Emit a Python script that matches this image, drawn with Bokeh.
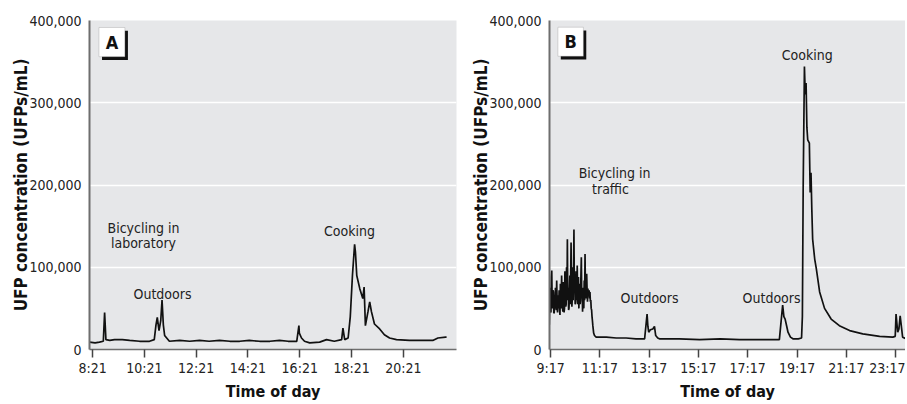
from bokeh.plotting import figure
from bokeh.layouts import row
from bokeh.models import (FixedTicker, NumeralTickFormatter, CustomJSTickFormatter,
                          Range1d, Label, BoxAnnotation)
from bokeh.embed import file_html
from bokeh.resources import INLINE

# ---------------- data (minutes since midnight, UFPs/mL in thousands) ----------------
a_time = [494, 507, 517, 526, 529, 532, 541, 552, 570, 587, 610, 633, 644, 648, 651, 655,
          659, 662, 665, 668, 679, 703, 726, 749, 771, 795, 819, 842, 864, 888, 912, 934,
          954, 974, 979, 980, 985, 992, 1004, 1027, 1043, 1061, 1078, 1081, 1085, 1093,
          1098, 1103, 1108, 1110, 1113, 1120, 1127, 1130, 1133, 1139, 1143, 1147, 1154,
          1166, 1177, 1189, 1205, 1235, 1260, 1289, 1301, 1319, 1321]
a_ufp = [9, 8, 9, 10, 45, 12, 11, 12, 12, 11, 10, 10, 12, 30, 39, 23,
         35, 60, 30, 17, 10, 11, 10, 11, 10, 11, 10, 10, 11, 10, 10, 11,
         10, 10, 29, 20, 14, 10, 8, 9, 12, 10, 12, 26, 12, 14,
         40, 90, 128, 118, 90, 74, 62, 76, 29, 46, 58, 46, 31,
         25, 18, 14, 12, 11, 11, 11, 14, 15, 15]

b_time = [554, 555, 556, 557, 558, 559, 560, 561, 562, 563, 564, 565, 566, 566.5, 567, 568,
          569, 570, 571, 571.5, 572, 573, 574, 575, 576, 577, 578, 579, 580, 580.5, 581,
          582, 583, 584, 585, 586, 587, 588, 589, 590, 591, 592, 593, 594, 595, 596, 597,
          598, 599, 600, 601, 602, 603, 604, 605, 606, 607, 608, 609, 610, 611, 612, 613,
          614, 615, 616, 617, 618, 619, 620, 621, 622, 623, 624, 625, 626, 627, 628, 629,
          630, 631, 632, 633, 634, 635, 636, 637, 638, 639, 640, 641, 642, 643, 644, 645,
          646, 647, 648, 649, 650, 651, 652, 653, 654, 655, 656, 657, 658, 659, 660, 662,
          664, 668,
          693, 717, 741, 765, 786, 792, 794, 796, 800, 806, 810, 813, 818, 822, 870, 920,
          970, 1017, 1065, 1114, 1122, 1125, 1128, 1132, 1135, 1141, 1147, 1160, 1168,
          1170, 1172, 1175, 1177, 1179, 1181, 1183, 1187, 1189, 1191, 1193, 1195, 1200,
          1204, 1212, 1224, 1240, 1260, 1285, 1317, 1358, 1390, 1396, 1398, 1402, 1405,
          1408, 1414, 1423]
b_ufp = [30, 62, 75, 48, 45, 88, 96, 55, 50, 72, 70, 44, 45, 66, 50, 60,
         75, 52, 48, 70, 84, 58, 45, 66, 50, 54, 72, 48, 42, 62, 80,
         56, 50, 90, 65, 52, 46, 82, 70, 45, 50, 95, 78, 52, 55, 100, 60,
         134, 60, 75, 48, 50, 72, 90, 55, 85, 130, 70, 52, 62, 100, 60, 88,
         146, 70, 80, 55, 58, 95, 85, 60, 102, 55, 60, 88, 50, 70, 80, 55,
         60, 90, 112, 62, 70, 46, 68, 75, 50, 84, 60, 116, 70, 80, 62, 92,
         72, 58, 74, 66, 65, 72, 62, 70, 58, 60, 50, 48, 40, 35, 29, 20,
         17, 15,
         15, 14, 14, 13, 13, 43, 28, 21, 24, 25, 28, 17, 14, 13, 13, 12,
         13, 12, 12, 12, 54, 40, 37, 28, 21, 15, 13, 13, 14,
         40, 200, 344, 310, 324, 270, 255, 251, 191, 215, 170, 134, 110,
         98, 70, 50, 37, 29, 23, 19, 16, 15, 16, 43, 21, 25,
         41, 15, 13]

a_ticks = [501, 621, 741, 861, 981, 1101, 1221]            # 8:21 ... 20:21
b_ticks = [557, 677, 797, 917, 1037, 1157, 1277, 1397]     # 9:17 ... 23:17
y_ticks = [0, 100000, 200000, 300000, 400000]

a_notes = [("Bicycling in", 619, 147.6), ("laboratory", 619, 129),
           ("Outdoors", 663, 68), ("Cooking", 1096, 144)]
b_notes = [("Bicycling in", 713, 214.6), ("traffic", 703, 195),
           ("Outdoors", 798, 62.6), ("Outdoors", 1095, 62.6), ("Cooking", 1182, 357.7)]

FONT = "'DejaVu Sans Condensed', 'Liberation Sans', sans-serif"
BG = "#e6e7e9"

time_fmt = CustomJSTickFormatter(code="""
    const h = Math.floor(tick / 60);
    const m = Math.round(tick - h * 60);
    return h + ':' + (m < 10 ? '0' + m : '' + m);
""")


def make_panel(times, ufp, x0, x1, ticks, notes, letter, box, width, bleft, bright):
    p = figure(width=width, height=403, output_backend="svg", toolbar_location=None,
               x_range=Range1d(x0, x1), y_range=Range1d(0, 400000),
               min_border_left=bleft, min_border_right=bright, min_border_top=20,
               min_border_bottom=54)
    p.background_fill_color = BG
    p.border_fill_color = "white"
    p.outline_line_color = None

    p.line(times, [v * 1000 for v in ufp], line_color="#111111", line_width=1.7)

    p.xgrid.grid_line_color = None
    p.ygrid.grid_line_color = "white"
    p.ygrid.grid_line_width = 1.5
    p.ygrid.ticker = FixedTicker(ticks=y_ticks)

    xa = p.xaxis[0]
    xa.ticker = FixedTicker(ticks=ticks)
    xa.formatter = time_fmt
    xa.axis_line_color = "#6e6e6e"
    xa.axis_line_width = 1.5
    xa.major_tick_line_color = "#444444"
    xa.major_tick_line_width = 1.5
    xa.major_tick_out = 8
    xa.major_tick_in = 0
    xa.minor_tick_line_color = None
    xa.major_label_standoff = 2
    xa.major_label_text_font = FONT
    xa.major_label_text_font_size = "14px"
    xa.major_label_text_color = "#222222"
    xa.axis_label = "Time of day"
    xa.axis_label_text_font = FONT
    xa.axis_label_text_font_style = "bold"
    xa.axis_label_text_font_size = "16px"
    xa.axis_label_text_color = "#111111"
    xa.axis_label_standoff = 3

    ya = p.yaxis[0]
    ya.ticker = FixedTicker(ticks=y_ticks)
    ya.formatter = NumeralTickFormatter(format="0,0")
    ya.axis_line_color = "#6e6e6e"
    ya.axis_line_width = 2
    ya.major_tick_line_color = None
    ya.minor_tick_line_color = None
    ya.major_tick_out = 0
    ya.major_tick_in = 0
    ya.major_label_standoff = 8
    ya.major_label_text_font = FONT
    ya.major_label_text_font_size = "14px"
    ya.major_label_text_color = "#222222"
    ya.axis_label = "UFP concentration (UFPs/mL)"
    ya.axis_label_text_font = FONT
    ya.axis_label_text_font_style = "bold"
    ya.axis_label_text_font_size = "17px"
    ya.axis_label_text_color = "#111111"
    ya.axis_label_standoff = -5

    for txt, tx, ty in notes:
        p.add_layout(Label(x=tx, y=ty * 1000, text=txt, text_align="center",
                           text_baseline="middle", text_font=FONT,
                           text_font_size="14px", text_color="#222222"))

    (bl, br, bb, bt), (sl, sr, sb, st), (lx, ly) = box
    p.add_layout(BoxAnnotation(left=sl, right=sr, bottom=sb * 1000, top=st * 1000,
                               fill_color="#111111", fill_alpha=1, line_color=None))
    p.add_layout(BoxAnnotation(left=bl, right=br, bottom=bb * 1000, top=bt * 1000,
                               fill_color="white", fill_alpha=1, line_color="#888888",
                               line_width=1))
    p.add_layout(Label(x=lx, y=ly * 1000, text=letter, text_align="center",
                       text_baseline="middle", text_font=FONT, text_font_style="bold",
                       text_font_size="18px", text_color="#111111"))
    return p


box_a = ((516, 576, 356, 391.5), (523, 583, 352, 387.5), (546, 373.8))
box_b = ((575, 637, 356.5, 391.8), (582, 644, 352.5, 387.8), (606, 374))

pA = make_panel(a_time, a_ufp, 494, 1344, a_ticks, a_notes, "A", box_a, 465, 89, 9)
pB = make_panel(b_time, b_ufp, 554.5, 1421, b_ticks, b_notes, "B", box_b, 440, 84, 0)

layout = row(pA, pB)
open("out.html", "w").write(file_html(layout, INLINE))
